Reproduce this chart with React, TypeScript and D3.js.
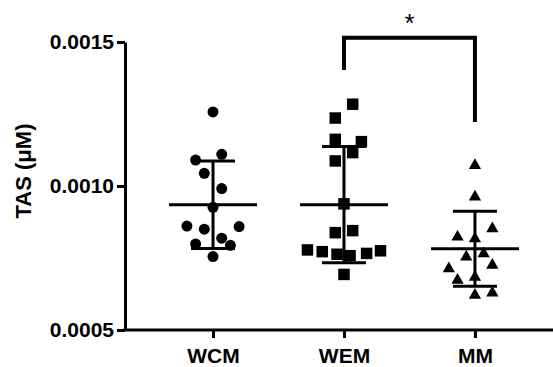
import { useRef, useEffect } from 'react'
import { select, scaleLinear, scalePoint, axisLeft, axisBottom, format, mean, deviation, symbol, symbolCircle, symbolSquare } from 'd3'

const width = 553
const height = 367
const margin = { top: 42, right: 0, bottom: 37, left: 125 }

// groups and the individual TAS values (µM)
const groups = ['WCM', 'WEM', 'MM']
const wcm = [0.001257, 0.00111, 0.00109, 0.001044, 0.000991, 0.000926, 0.000861, 0.000859, 0.00085, 0.000819, 0.000799, 0.000794, 0.000755]
const wem = [0.001284, 0.001236, 0.001162, 0.001154, 0.001116, 0.001087, 0.000938, 0.000838, 0.000845, 0.000778, 0.000772, 0.000763, 0.000758, 0.000766, 0.000775, 0.000693]
const mm = [0.001078, 0.000968, 0.000829, 0.000858, 0.000823, 0.00076, 0.000771, 0.000731, 0.000719, 0.000679, 0.00069, 0.000627, 0.000635]

// scatter lane of each point (column scatter spreading, in marker widths)
const wcmLane = [0, 1, -2, -1, 1, 0, -3, 3, -1, 1, -2, 2, 0]
const wemLane = [1, -1, -1, 2, 1, -1, 0, -1, 1, -4.2, -2.5, -0.8, 0.7, 2.6, 4.2, 0]
const mmLane = [0, 0, -2, 2, 0, -1, 1, 2, -3, -2, 0, 0, 2]

const yTicks = [0.0005, 0.001, 0.0015]
const sigPair = ['WEM', 'MM']

const font = '"Liberation Sans", Arial, sans-serif'

// triangle centred on its bounding box, like Prism draws it
const triangle = {
  draw(ctx: any, size: number) {
    const w = Math.sqrt(size) * 1.1
    const h = w * 0.87
    ctx.moveTo(0, -h / 2)
    ctx.lineTo(w / 2, h / 2)
    ctx.lineTo(-w / 2, h / 2)
    ctx.closePath()
  }
}

const series = [
  { name: 'WCM', values: wcm, lanes: wcmLane, shape: symbol(symbolCircle, 95)() },
  { name: 'WEM', values: wem, lanes: wemLane, shape: symbol(symbolSquare, 132)() },
  { name: 'MM', values: mm, lanes: mmLane, shape: symbol(triangle as any, 125)() },
]

const App = () => {
  const svgRef = useRef<SVGSVGElement>(null)

  useEffect(() => {
    const svg = select(svgRef.current)
    svg.selectAll('*').remove()

    const x = scalePoint<string>().domain(groups).range([margin.left, width - margin.right]).padding(0.634).align(0.53)
    const y = scaleLinear().domain([0.0005, 0.0015]).range([height - margin.bottom, margin.top])
    const lane = scaleLinear().domain([0, 1]).range([0, 8.7])

    // y axis
    const gy = svg.append('g')
      .attr('transform', `translate(${margin.left},0)`)
      .call(axisLeft(y).tickValues(yTicks).tickFormat(format('.4f')).tickSize(8).tickSizeOuter(0))
    gy.select('.domain').attr('stroke-width', 3)
    gy.selectAll('.tick line').attr('stroke-width', 3)
    gy.selectAll('.tick text').attr('font-family', font).attr('font-size', 21).attr('font-weight', 'bold').attr('fill', '#000')

    // x axis
    const gx = svg.append('g')
      .attr('transform', `translate(0,${height - margin.bottom})`)
      .call(axisBottom(x).tickSize(8).tickSizeOuter(0))
    gx.select('.domain').remove()
    gx.append('line')
      .attr('x1', margin.left - 1.5).attr('x2', width - margin.right)
      .attr('stroke', '#000').attr('stroke-width', 3)
    gx.selectAll('.tick line').attr('stroke-width', 3)
    gx.selectAll('.tick text').attr('y', 18).attr('font-family', font).attr('font-size', 21).attr('font-weight', 'bold').attr('fill', '#000')

    // y label
    svg.append('text')
      .attr('transform', `translate(31,171) rotate(-90)`)
      .attr('text-anchor', 'middle')
      .attr('font-family', font).attr('font-size', 22).attr('font-weight', 'bold')
      .text('TAS (\u03bcM)')

    // points
    series.forEach(s => {
      svg.append('g')
        .selectAll('path')
        .data(s.values)
        .join('path')
        .attr('d', s.shape)
        .attr('transform', (v, i) => `translate(${x(s.name)! + lane(s.lanes[i])},${y(v)})`)
        .attr('fill', '#000')
    })

    // mean +/- SD
    series.forEach(s => {
      const m = mean(s.values)!
      const sd = deviation(s.values)!
      const cx = x(s.name)!
      const g = svg.append('g').attr('stroke', '#000').attr('stroke-width', 3)
      g.append('line').attr('x1', cx).attr('x2', cx).attr('y1', y(m + sd)).attr('y2', y(m - sd))
      g.append('line').attr('x1', cx - 22).attr('x2', cx + 22).attr('y1', y(m + sd)).attr('y2', y(m + sd))
      g.append('line').attr('x1', cx - 22).attr('x2', cx + 22).attr('y1', y(m - sd)).attr('y2', y(m - sd))
      g.append('line').attr('x1', cx - 44).attr('x2', cx + 44).attr('y1', y(m)).attr('y2', y(m))
    })

    // significance bracket
    const x1 = x(sigPair[0])!
    const x2 = x(sigPair[1])!
    const top = y(0.001515)
    svg.append('path')
      .attr('d', `M${x1},${y(0.001403)}V${top}H${x2}V${y(0.001222)}`)
      .attr('fill', 'none').attr('stroke', '#000').attr('stroke-width', 4)
    svg.append('text')
      .attr('x', (x1 + x2) / 2).attr('y', top - 6)
      .attr('text-anchor', 'middle')
      .attr('font-family', font).attr('font-size', 26)
      .text('*')
  }, [])

  return (
    <svg ref={svgRef} width={width} height={height} style={{ position: 'absolute', left: 0, top: 0, background: '#fff' }} />
  )
}

export default App
